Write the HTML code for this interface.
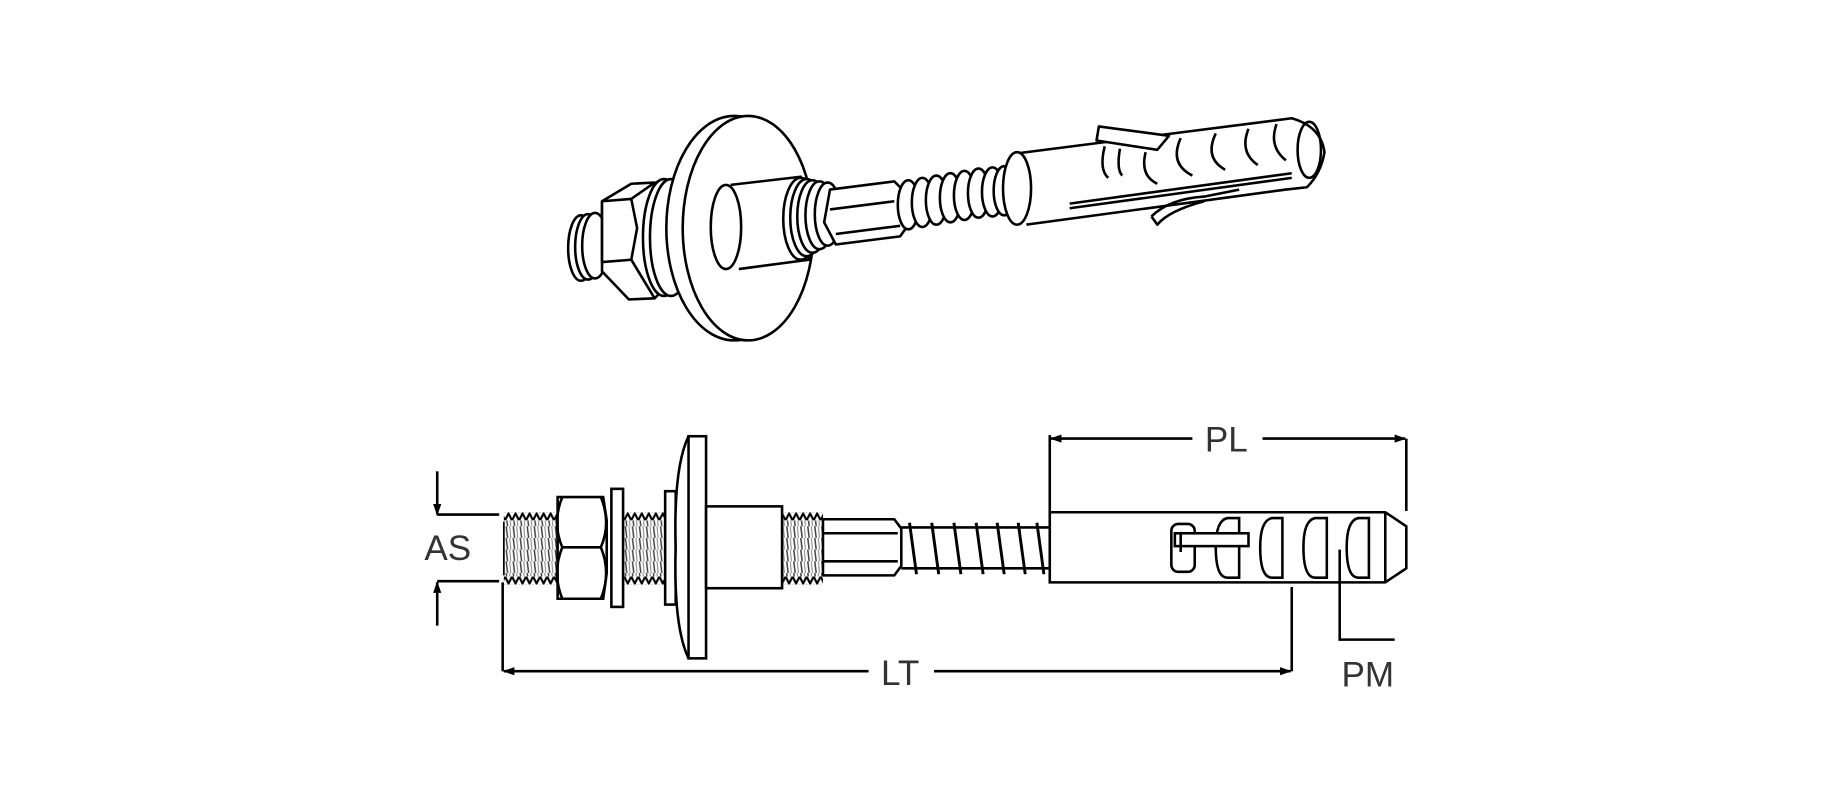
<!DOCTYPE html>
<html><head><meta charset="utf-8"><style>
html,body{margin:0;padding:0;background:#fff;width:1833px;height:800px;overflow:hidden}
svg{display:block}
text{font-family:"Liberation Sans","DejaVu Sans",sans-serif;fill:#333}
</style></head><body>
<svg width="1833" height="800" viewBox="0 0 1568 684" xmlns="http://www.w3.org/2000/svg">
<defs>
<pattern id="thr" x="0" y="0" width="6" height="10" patternUnits="userSpaceOnUse">
<rect width="6" height="10" fill="#fff"/><line x1="1" y1="0" x2="2.2" y2="10" stroke="#444" stroke-width="1.3"/><line x1="4" y1="0" x2="5" y2="10" stroke="#888" stroke-width="0.9"/>
</pattern>
<pattern id="tt" x="0" y="438" width="6" height="7" patternUnits="userSpaceOnUse">
<rect width="6" height="7" fill="#fff"/><path d="M0,7 L3,1 L6,7" fill="none" stroke="#000" stroke-width="1.8"/>
</pattern>
<pattern id="tb" x="0" y="493" width="6" height="7" patternUnits="userSpaceOnUse">
<rect width="6" height="7" fill="#fff"/><path d="M0,0 L3,6 L6,0" fill="none" stroke="#000" stroke-width="1.8"/>
</pattern>
<marker id="ah" markerWidth="10" markerHeight="8" refX="9" refY="4" orient="auto" markerUnits="userSpaceOnUse"><path d="M0,0.5 L10,4 L0,7.5 Z" fill="#000"/></marker>
</defs>
<g fill="none" stroke="#000" stroke-width="2.2" stroke-linejoin="round">
<!-- ===== TOP 3D VIEW ===== -->
<ellipse cx="497" cy="212" rx="11" ry="28" fill="#fff"/>
<ellipse cx="503" cy="211" rx="11" ry="28" fill="#fff"/>
<ellipse cx="509" cy="210" rx="11" ry="28" fill="#fff"/>
<path d="M515,172 L540,157 L560,156 L575,180 L575,240 L560,255 L538,256 L515,232 Z" fill="#fff"/>
<path d="M515,172 L540,170 L545,195 L540,222 L515,224 Z" fill="#fff"/>
<line x1="540" y1="170" x2="560" y2="156"/><line x1="540" y1="222" x2="560" y2="255"/>
<ellipse cx="568" cy="203" rx="18" ry="50" fill="#fff"/>
<ellipse cx="574" cy="203" rx="18" ry="50" fill="#fff"/>
<ellipse cx="628" cy="195" rx="58" ry="96" fill="#fff"/>
<ellipse cx="640" cy="195" rx="56" ry="96" fill="#fff"/>
<path d="M625,158 L685,151 L692,222 L632,230" fill="#fff"/>
<ellipse cx="621" cy="194" rx="13" ry="36" fill="#fff"/>
<ellipse cx="685" cy="187" rx="15" ry="35" fill="#fff"/>
<ellipse cx="690" cy="186" rx="14" ry="33" fill="#fff"/>
<ellipse cx="695" cy="185" rx="13" ry="31" fill="#fff"/>
<ellipse cx="701" cy="184" rx="12" ry="29" fill="#fff"/>
<ellipse cx="708" cy="183" rx="11" ry="27" fill="#fff"/>
<path d="M710,162 L765,155 L775,165 L775,195 L770,202 L715,209 L705,190 Z" fill="#fff"/>
<line x1="710" y1="179" x2="765" y2="172"/><line x1="715" y1="200" x2="770" y2="193"/>
<ellipse cx="777" cy="175" rx="9" ry="21" fill="#fff"/>
<ellipse cx="789" cy="173" rx="9" ry="21" fill="#fff"/>
<ellipse cx="801" cy="171" rx="9" ry="21" fill="#fff"/>
<ellipse cx="813" cy="169" rx="9" ry="21" fill="#fff"/>
<ellipse cx="825" cy="167" rx="9" ry="21" fill="#fff"/>
<ellipse cx="837" cy="165" rx="9" ry="21" fill="#fff"/>
<ellipse cx="849" cy="164" rx="9" ry="21" fill="#fff"/>
<ellipse cx="859" cy="163" rx="9" ry="21" fill="#fff"/>
<path d="M870,131 L1105,101 Q1130,108 1133,130 Q1130,148 1118,160 L1100,162 L878,192" fill="#fff"/>
<ellipse cx="870" cy="161" rx="12" ry="31" fill="#fff"/>
<ellipse cx="1120" cy="128" rx="10" ry="24"/>
<line x1="915" y1="178" x2="1105" y2="152"/>
<line x1="915" y1="174" x2="1105" y2="148"/>
<path d="M940,108 L1000,116 L990,128 L938,120 Z" fill="#fff"/>
<path d="M945,125 Q940,145 948,152 M958,127 Q955,145 960,150"/>
<path d="M980,130 Q975,150 990,157"/>
<path d="M1010,118 Q1000,140 1020,150"/>
<path d="M1040,114 Q1030,135 1048,145"/>
<path d="M1068,110 Q1060,130 1076,141"/>
<path d="M1092,106 Q1085,125 1100,137"/>
<path d="M985,185 Q1000,170 1030,168 L1060,162" />
<path d="M985,185 L990,192 Q1000,180 1030,172"/>
</g>
<!-- threads bottom -->
<g stroke="none">
<rect x="431" y="445" width="46" height="48" fill="url(#thr)"/>
<rect x="431" y="438" width="46" height="7" fill="url(#tt)"/>
<rect x="431" y="493" width="46" height="7" fill="url(#tb)"/>
<rect x="534" y="445" width="34" height="48" fill="url(#thr)"/>
<rect x="534" y="438" width="34" height="7" fill="url(#tt)"/>
<rect x="534" y="493" width="34" height="7" fill="url(#tb)"/>
<rect x="670" y="445" width="34" height="48" fill="url(#thr)"/>
<rect x="670" y="438" width="34" height="7" fill="url(#tt)"/>
<rect x="670" y="493" width="34" height="7" fill="url(#tb)"/>
</g>
<g fill="none" stroke="#000" stroke-width="2.2">
<line x1="374" y1="403" x2="374" y2="440" marker-end="url(#ah)"/>
<line x1="374" y1="440" x2="427" y2="440"/>
<line x1="374" y1="497" x2="427" y2="497"/>
<line x1="374" y1="535" x2="374" y2="498" marker-end="url(#ah)"/>
<path d="M431,446 L431,492" stroke-width="1.5"/>
<path d="M477,425 L516,425 L519,445 L519,490 L516,512 L477,512 Z" fill="#fff"/>
<path d="M481,425 Q472,447 481,468 Q472,490 481,512 M514,425 Q523,447 514,468 Q523,490 514,512"/>
<line x1="481" y1="468" x2="514" y2="468"/>
<rect x="523" y="418" width="10" height="101" fill="#fff"/>
<rect x="569" y="420" width="9" height="97" fill="#fff"/>
<path d="M589,373 Q576,400 578,468 Q576,536 589,563" fill="#fff"/>
<rect x="589" y="373" width="15" height="190" fill="#fff"/>
<rect x="604" y="433" width="65" height="70" fill="#fff"/>
<path d="M704,444 L765,444 L771,452 L771,484 L765,492 L704,492 Z" fill="#fff"/>
<line x1="704" y1="456" x2="768" y2="456"/><line x1="704" y1="480" x2="768" y2="480"/>
<line x1="771" y1="451" x2="898" y2="451"/><line x1="771" y1="486" x2="898" y2="486"/>
<path d="M778,447 L784,491 M797,447 L803,491 M816,447 L822,491 M835,447 L841,491 M853,447 L859,491 M871,447 L877,491 M887,447 L893,491" stroke-width="2.5"/>
<path d="M898,438 L1185,438 L1203,450 L1203,486 L1185,498 L898,498 Z" fill="#fff"/>
<line x1="1185" y1="438" x2="1185" y2="498"/>
<rect x="1002" y="448" width="20" height="41" rx="6"/>
<path d="M1050,443 Q1040,445 1040,468 Q1040,494 1050,494 L1060,494 L1060,443 Z"/>
<path d="M1088,443 Q1078,445 1078,468 Q1078,494 1088,494 L1097,494 L1097,443 Z"/>
<path d="M1125,443 Q1115,445 1115,468 Q1115,494 1125,494 L1135,494 L1135,443 Z"/>
<path d="M1162,443 Q1152,445 1152,468 Q1152,494 1162,494 L1171,494 L1171,443 Z"/>
<rect x="1005" y="456" width="63" height="11" fill="#fff"/>
<line x1="1010" y1="456" x2="1010" y2="472"/>
<line x1="898" y1="372" x2="898" y2="437"/>
<line x1="1203" y1="375" x2="1203" y2="437"/>
<line x1="1020" y1="375" x2="899" y2="375" marker-end="url(#ah)"/>
<line x1="1080" y1="375" x2="1202" y2="375" marker-end="url(#ah)"/>
<line x1="430" y1="498" x2="430" y2="574"/>
<line x1="1105" y1="502" x2="1105" y2="574"/>
<line x1="743" y1="574" x2="431" y2="574" marker-end="url(#ah)"/>
<line x1="799" y1="574" x2="1104" y2="574" marker-end="url(#ah)"/>
<path d="M1146,470 L1146,547 L1193,547"/>
</g>
<text x="383" y="479" font-size="30" text-anchor="middle">AS</text>
<text x="1049" y="386" font-size="30" text-anchor="middle">PL</text>
<text x="770" y="586" font-size="30" text-anchor="middle">LT</text>
<text x="1170" y="587" font-size="30" text-anchor="middle">PM</text>
</svg>
</body></html>
